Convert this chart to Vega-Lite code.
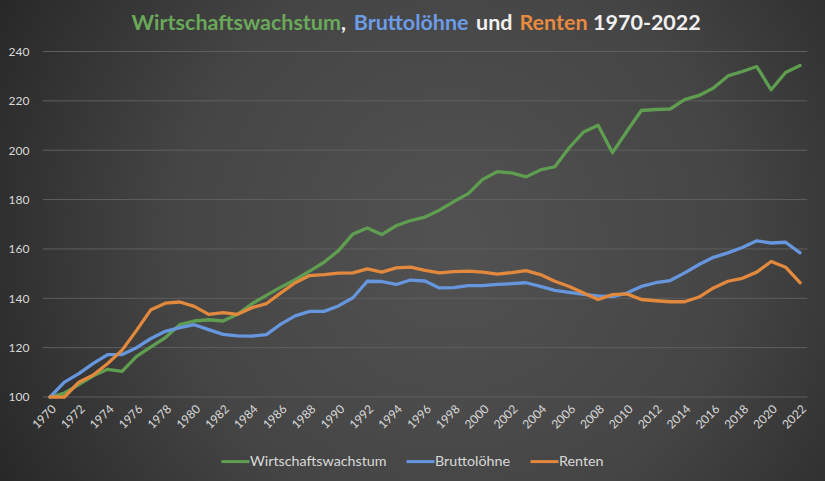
{
  "$schema": "https://vega.github.io/schema/vega-lite/v6.json",
  "width": 825,
  "height": 481,
  "autosize": {"type": "none"},
  "padding": 0,
  "background": "#2c2c2c",
  "config": {
    "font": "Lato",
    "view": {
      "stroke": null,
      "fill": {
        "gradient": "radial",
        "x1": 0.55, "y1": 0.5, "r1": 0,
        "x2": 0.55, "y2": 0.5, "r2": 0.62,
        "stops": [
          {"offset": 0, "color": "#525252"},
          {"offset": 0.55, "color": "#454545"},
          {"offset": 1, "color": "#282828"}
        ]
      }
    },
    "axis": {"labelFont": "Lato", "labelColor": "#d9d9d9", "labelFontSize": 12, "labelOverlap": false},
    "text": {"font": "Lato", "fontSize": 21.5, "fontWeight": "bold", "align": "left", "baseline": "alphabetic"}
  },
  "datasets": {
    "index": [
      {"Jahr": 1970, "Wirtschaftswachstum": 100.0, "Bruttolöhne": 100.0, "Renten": 100.0},
      {"Jahr": 1971, "Wirtschaftswachstum": 101.6, "Bruttolöhne": 106.0, "Renten": 100.0},
      {"Jahr": 1972, "Wirtschaftswachstum": 105.0, "Bruttolöhne": 109.5, "Renten": 106.0},
      {"Jahr": 1973, "Wirtschaftswachstum": 108.6, "Bruttolöhne": 113.6, "Renten": 108.9},
      {"Jahr": 1974, "Wirtschaftswachstum": 111.2, "Bruttolöhne": 117.2, "Renten": 113.6},
      {"Jahr": 1975, "Wirtschaftswachstum": 110.4, "Bruttolöhne": 117.2, "Renten": 119.0},
      {"Jahr": 1976, "Wirtschaftswachstum": 116.5, "Bruttolöhne": 120.0, "Renten": 127.0},
      {"Jahr": 1977, "Wirtschaftswachstum": 120.3, "Bruttolöhne": 123.7, "Renten": 135.4},
      {"Jahr": 1978, "Wirtschaftswachstum": 124.1, "Bruttolöhne": 126.6, "Renten": 138.0},
      {"Jahr": 1979, "Wirtschaftswachstum": 129.3, "Bruttolöhne": 128.1, "Renten": 138.5},
      {"Jahr": 1980, "Wirtschaftswachstum": 130.8, "Bruttolöhne": 129.3, "Renten": 136.7},
      {"Jahr": 1981, "Wirtschaftswachstum": 131.3, "Bruttolöhne": 127.3, "Renten": 133.5},
      {"Jahr": 1982, "Wirtschaftswachstum": 130.8, "Bruttolöhne": 125.4, "Renten": 134.2},
      {"Jahr": 1983, "Wirtschaftswachstum": 133.5, "Bruttolöhne": 124.8, "Renten": 133.5},
      {"Jahr": 1984, "Wirtschaftswachstum": 137.8, "Bruttolöhne": 124.7, "Renten": 136.2},
      {"Jahr": 1985, "Wirtschaftswachstum": 141.2, "Bruttolöhne": 125.3, "Renten": 137.8},
      {"Jahr": 1986, "Wirtschaftswachstum": 144.5, "Bruttolöhne": 129.5, "Renten": 142.2},
      {"Jahr": 1987, "Wirtschaftswachstum": 147.5, "Bruttolöhne": 132.9, "Renten": 146.3},
      {"Jahr": 1988, "Wirtschaftswachstum": 151.0, "Bruttolöhne": 134.7, "Renten": 149.2},
      {"Jahr": 1989, "Wirtschaftswachstum": 154.6, "Bruttolöhne": 134.7, "Renten": 149.6},
      {"Jahr": 1990, "Wirtschaftswachstum": 159.3, "Bruttolöhne": 136.9, "Renten": 150.2},
      {"Jahr": 1991, "Wirtschaftswachstum": 166.0, "Bruttolöhne": 140.2, "Renten": 150.3},
      {"Jahr": 1992, "Wirtschaftswachstum": 168.5, "Bruttolöhne": 146.9, "Renten": 151.9},
      {"Jahr": 1993, "Wirtschaftswachstum": 165.8, "Bruttolöhne": 146.8, "Renten": 150.6},
      {"Jahr": 1994, "Wirtschaftswachstum": 169.4, "Bruttolöhne": 145.6, "Renten": 152.3},
      {"Jahr": 1995, "Wirtschaftswachstum": 171.5, "Bruttolöhne": 147.4, "Renten": 152.6},
      {"Jahr": 1996, "Wirtschaftswachstum": 172.9, "Bruttolöhne": 147.0, "Renten": 151.3},
      {"Jahr": 1997, "Wirtschaftswachstum": 175.7, "Bruttolöhne": 144.2, "Renten": 150.3},
      {"Jahr": 1998, "Wirtschaftswachstum": 179.2, "Bruttolöhne": 144.3, "Renten": 150.8},
      {"Jahr": 1999, "Wirtschaftswachstum": 182.4, "Bruttolöhne": 145.1, "Renten": 151.0},
      {"Jahr": 2000, "Wirtschaftswachstum": 188.2, "Bruttolöhne": 145.1, "Renten": 150.6},
      {"Jahr": 2001, "Wirtschaftswachstum": 191.3, "Bruttolöhne": 145.6, "Renten": 149.8},
      {"Jahr": 2002, "Wirtschaftswachstum": 190.8, "Bruttolöhne": 145.9, "Renten": 150.4},
      {"Jahr": 2003, "Wirtschaftswachstum": 189.2, "Bruttolöhne": 146.3, "Renten": 151.2},
      {"Jahr": 2004, "Wirtschaftswachstum": 192.0, "Bruttolöhne": 144.8, "Renten": 149.6},
      {"Jahr": 2005, "Wirtschaftswachstum": 193.3, "Bruttolöhne": 143.2, "Renten": 146.9},
      {"Jahr": 2006, "Wirtschaftswachstum": 201.0, "Bruttolöhne": 142.4, "Renten": 144.8},
      {"Jahr": 2007, "Wirtschaftswachstum": 207.4, "Bruttolöhne": 141.6, "Renten": 142.1},
      {"Jahr": 2008, "Wirtschaftswachstum": 210.1, "Bruttolöhne": 141.0, "Renten": 139.5},
      {"Jahr": 2009, "Wirtschaftswachstum": 199.0, "Bruttolöhne": 140.7, "Renten": 141.5},
      {"Jahr": 2010, "Wirtschaftswachstum": 207.7, "Bruttolöhne": 142.1, "Renten": 141.8},
      {"Jahr": 2011, "Wirtschaftswachstum": 216.1, "Bruttolöhne": 144.8, "Renten": 139.5},
      {"Jahr": 2012, "Wirtschaftswachstum": 216.5, "Bruttolöhne": 146.3, "Renten": 139.0},
      {"Jahr": 2013, "Wirtschaftswachstum": 216.7, "Bruttolöhne": 147.2, "Renten": 138.6},
      {"Jahr": 2014, "Wirtschaftswachstum": 220.5, "Bruttolöhne": 150.3, "Renten": 138.6},
      {"Jahr": 2015, "Wirtschaftswachstum": 222.2, "Bruttolöhne": 153.7, "Renten": 140.5},
      {"Jahr": 2016, "Wirtschaftswachstum": 225.2, "Bruttolöhne": 156.6, "Renten": 144.2},
      {"Jahr": 2017, "Wirtschaftswachstum": 230.1, "Bruttolöhne": 158.4, "Renten": 146.9},
      {"Jahr": 2018, "Wirtschaftswachstum": 231.9, "Bruttolöhne": 160.6, "Renten": 148.1},
      {"Jahr": 2019, "Wirtschaftswachstum": 233.9, "Bruttolöhne": 163.3, "Renten": 150.6},
      {"Jahr": 2020, "Wirtschaftswachstum": 224.5, "Bruttolöhne": 162.4, "Renten": 154.9},
      {"Jahr": 2021, "Wirtschaftswachstum": 231.5, "Bruttolöhne": 162.7, "Renten": 152.6},
      {"Jahr": 2022, "Wirtschaftswachstum": 234.3, "Bruttolöhne": 158.4, "Renten": 146.3}
    ],
    "gitter": [
      {"wert": 100}, {"wert": 120}, {"wert": 140}, {"wert": 160},
      {"wert": 180}, {"wert": 200}, {"wert": 220}, {"wert": 240}
    ],
    "ueberschrift": [
      {"teil": 1, "text": "Wirtschaftswachstum"},
      {"teil": 2, "text": ","},
      {"teil": 3, "text": "Bruttolöhne"},
      {"teil": 4, "text": "und"},
      {"teil": 5, "text": "Renten"},
      {"teil": 6, "text": "1970-2022"}
    ]
  },
  "layer": [
    {
      "data": {"name": "gitter"},
      "mark": {"type": "rule", "color": "#5f5f5f", "strokeWidth": 1},
      "encoding": {
        "y": {
          "field": "wert", "type": "quantitative",
          "scale": {"domain": [65.96, 260.87], "zero": false, "nice": false},
          "axis": {"title": null, "values": [100, 120, 140, 160, 180, 200, 220, 240], "tickCount": 20, "domain": false, "ticks": false, "grid": false, "offset": -29, "labelPadding": 0, "tickSize": 0}
        },
        "x": {
          "datum": 1969.5, "type": "quantitative",
          "scale": {"domain": [1966.533, 2023.733], "zero": false, "nice": false},
          "axis": {"title": null, "values": [1970, 1972, 1974, 1976, 1978, 1980, 1982, 1984, 1986, 1988, 1990, 1992, 1994, 1996, 1998, 2000, 2002, 2004, 2006, 2008, 2010, 2012, 2014, 2016, 2018, 2020, 2022], "tickCount": 60, "format": "d", "labelAngle": -45, "labelOverlap": false, "labelBound": false, "labelFlush": false, "domain": false, "ticks": false, "grid": false, "offset": -84, "labelPadding": 6, "tickSize": 0}
        },
        "x2": {"datum": 2022.5}
      }
    },
    {
      "data": {"name": "index"},
      "transform": [
        {"fold": ["Wirtschaftswachstum", "Bruttolöhne", "Renten"], "as": ["Reihe", "Wert"]}
      ],
      "mark": {"type": "line", "strokeWidth": 3.3, "strokeCap": "round", "strokeJoin": "round"},
      "encoding": {
        "x": {"field": "Jahr", "type": "quantitative"},
        "y": {"field": "Wert", "type": "quantitative"},
        "color": {
          "field": "Reihe", "type": "nominal",
          "scale": {"domain": ["Wirtschaftswachstum", "Bruttolöhne", "Renten"], "range": ["#5f9e50", "#6697de", "#e2893d"]},
          "legend": {
            "title": null, "orient": "none", "direction": "horizontal",
            "legendX": 220, "legendY": 446,
            "symbolType": "stroke", "symbolSize": 784, "symbolStrokeWidth": 3,
            "labelColor": "#d9d9d9", "labelFont": "Lato", "labelFontSize": 14.3,
            "labelOffset": -1, "columnPadding": 13
          }
        }
      }
    },
    {
      "data": {"name": "ueberschrift"},
      "layer": [
        {
          "transform": [{"filter": "datum.teil == 1"}],
          "mark": {"type": "text", "color": "#6aa95a"},
          "encoding": {
            "x": {"datum": 1975.657, "type": "quantitative"},
            "y": {"datum": 248.7, "type": "quantitative"},
            "text": {"field": "text"}
          }
        },
        {
          "transform": [{"filter": "datum.teil == 2"}],
          "mark": {"type": "text", "color": "#f0f0f0"},
          "encoding": {
            "x": {"datum": 1990.18, "type": "quantitative"},
            "y": {"datum": 248.7, "type": "quantitative"},
            "text": {"field": "text"}
          }
        },
        {
          "transform": [{"filter": "datum.teil == 3"}],
          "mark": {"type": "text", "color": "#6c9ce6"},
          "encoding": {
            "x": {"datum": 1991.056, "type": "quantitative"},
            "y": {"datum": 248.7, "type": "quantitative"},
            "text": {"field": "text"}
          }
        },
        {
          "transform": [{"filter": "datum.teil == 4"}],
          "mark": {"type": "text", "color": "#f0f0f0"},
          "encoding": {
            "x": {"datum": 1999.536, "type": "quantitative"},
            "y": {"datum": 248.7, "type": "quantitative"},
            "text": {"field": "text"}
          }
        },
        {
          "transform": [{"filter": "datum.teil == 5"}],
          "mark": {"type": "text", "color": "#e88b40"},
          "encoding": {
            "x": {"datum": 2002.552, "type": "quantitative"},
            "y": {"datum": 248.7, "type": "quantitative"},
            "text": {"field": "text"}
          }
        },
        {
          "transform": [{"filter": "datum.teil == 6"}],
          "mark": {"type": "text", "color": "#f0f0f0"},
          "encoding": {
            "x": {"datum": 2007.648, "type": "quantitative"},
            "y": {"datum": 248.7, "type": "quantitative"},
            "text": {"field": "text"}
          }
        }
      ]
    }
  ]
}
